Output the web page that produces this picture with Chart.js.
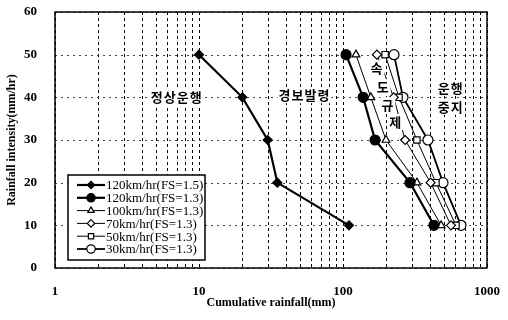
<!DOCTYPE html>
<html>
<head>
<meta charset="utf-8">
<script src="https://cdn.jsdelivr.net/npm/chart.js@4.4.1/dist/chart.umd.min.js"></script>
<style>
    html, body { margin: 0; padding: 0; background: #fff; }
    #wrap { width: 508px; height: 320px; }
</style>
</head>
<body>
<div id="wrap"><canvas id="rainChart" width="508" height="320"></canvas></div>
<script>
// rainfall intensity (mm/hr) for every point
const intensity = [50, 40, 30, 20, 10];

// cumulative rainfall (mm) per series, same order as intensity
const rain120fs15 = [10, 20, 30, 35, 110];
const rain120fs13 = [105, 138, 167, 292, 428];
const rain100 = [123, 156, 199, 326, 480];
const rain70 = [172, 225, 270, 406, 562];
const rain50 = [196, 245, 326, 442, 609];
const rain30 = [226, 261, 389, 495, 660];

const seriesLabels = [
    "120km/hr(FS=1.5)",
    "120km/hr(FS=1.3)",
    "100km/hr(FS=1.3)",
    "70km/hr(FS=1.3)",
    "50km/hr(FS=1.3)",
    "30km/hr(FS=1.3)"
];

const yTicks = [0, 10, 20, 30, 40, 50, 60];
const xMajorTicks = [1, 10, 100, 1000];

// region labels: text, rainfall, intensity
const zoneLabels = [
    ["정상운행", 7, 40],
    ["경보발령", 54, 40.5],
    ["속", 172, 46.8],
    ["도", 190, 42.4],
    ["규", 205, 38.2],
    ["제", 232, 34.2],
    ["운행", 560, 42.2],
    ["중지", 560, 37.8]
];

const SERIF = "'Liberation Serif', 'DejaVu Serif', serif";
const KR = "'Noto Sans CJK KR', sans-serif";

function toPoints(xs) {
    return xs.map((v, i) => ({ x: v, y: intensity[i] }));
}

function makeSet(label, xs, style, radius, filled, width) {
    return {
        label: label,
        data: toPoints(xs),
        showLine: true,
        borderColor: "#000",
        backgroundColor: filled ? "#000" : "#fff",
        borderWidth: width,
        pointStyle: style,
        pointRadius: radius,
        pointBorderWidth: 1.2,
        pointBackgroundColor: filled ? "#000" : "#fff",
        pointBorderColor: "#000"
    };
}

const datasets = [
    makeSet(seriesLabels[0], rain120fs15, "rectRot", 4.5, true, 2.2),
    makeSet(seriesLabels[1], rain120fs13, "circle", 5, true, 2.2),
    makeSet(seriesLabels[2], rain100, "triangle", 4.5, false, 1),
    makeSet(seriesLabels[3], rain70, "rectRot", 4.5, false, 1),
    makeSet(seriesLabels[4], rain50, "rect", 4.5, false, 1),
    makeSet(seriesLabels[5], rain30, "circle", 5, false, 1.8)
];

// dashed grid drawn by hand so the dash pattern is under control
const dashedGrid = {
    id: "dashedGrid",
    beforeDatasetsDraw(chart) {
        const ctx = chart.ctx;
        const a = chart.chartArea;
        const xs = chart.scales.x;
        const ys = chart.scales.y;

        ctx.save();
        ctx.lineWidth = 1;

        ctx.strokeStyle = "#000";
        ctx.setLineDash([3, 3]);
        xs.ticks.forEach(t => {
            const px = Math.round(xs.getPixelForValue(t.value)) + 0.5;
            ctx.beginPath();
            ctx.moveTo(px, a.top);
            ctx.lineTo(px, a.bottom);
            ctx.stroke();
        });

        ctx.strokeStyle = "#444";
        ctx.setLineDash([2, 4]);
        ys.ticks.forEach(t => {
            const py = Math.round(ys.getPixelForValue(t.value)) + 0.5;
            ctx.beginPath();
            ctx.moveTo(a.left, py);
            ctx.lineTo(a.right, py);
            ctx.stroke();
        });

        ctx.restore();
    }
};

// text boxes with white backing, drawn over the lines like the original
const annotations = {
    id: "annotations",
    afterDatasetsDraw(chart) {
        const ctx = chart.ctx;
        const xs = chart.scales.x;
        const ys = chart.scales.y;

        ctx.save();
        ctx.font = "bold 13px " + KR;
        ctx.letterSpacing = "1px";
        ctx.textAlign = "center";
        ctx.textBaseline = "middle";

        zoneLabels.forEach(z => {
            const cx = xs.getPixelForValue(z[1]);
            const cy = ys.getPixelForValue(z[2]);
            const w = ctx.measureText(z[0]).width + 2;
            ctx.fillStyle = "#fff";
            ctx.fillRect(cx - w / 2, cy - 8, w, 16);
            ctx.fillStyle = "#000";
            ctx.fillText(z[0], cx, cy);
        });

        // frame around plot
        const a = chart.chartArea;
        ctx.strokeStyle = "#000";
        ctx.lineWidth = 1.5;
        ctx.strokeRect(a.left, a.top, a.right - a.left, a.bottom - a.top);

        ctx.restore();
    }
};

// legend inside the plot, lower left
const boxLegend = {
    id: "boxLegend",
    afterDraw(chart) {
        const ctx = chart.ctx;
        const left = 68, top = 175, w = 137, h = 85;

        ctx.save();
        ctx.fillStyle = "#fff";
        ctx.fillRect(left, top, w, h);
        ctx.strokeStyle = "#000";
        ctx.lineWidth = 1.5;
        ctx.strokeRect(left, top, w, h);

        ctx.font = "13px " + SERIF;
        ctx.textBaseline = "middle";
        ctx.textAlign = "left";

        chart.data.datasets.forEach((ds, i) => {
            const y = top + 10 + i * 12.8;
            ctx.strokeStyle = "#000";
            ctx.lineWidth = ds.borderWidth;
            ctx.beginPath();
            ctx.moveTo(left + 9, y);
            ctx.lineTo(left + 37, y);
            ctx.stroke();

            ctx.lineWidth = 1.2;
            ctx.fillStyle = ds.pointBackgroundColor;
            Chart.helpers.drawPoint(ctx, {
                pointStyle: ds.pointStyle,
                radius: ds.pointRadius - 0.8,
                borderWidth: 1.2,
                rotation: 0
            }, left + 23, y);

            ctx.fillStyle = "#000";
            ctx.fillText(ds.label, left + 38, y + 1);
        });

        ctx.restore();
    }
};

const chart = new Chart(document.getElementById("rainChart"), {
    type: "scatter",
    data: { datasets: datasets },
    plugins: [dashedGrid, annotations, boxLegend],
    options: {
        responsive: false,
        animation: false,
        layout: { padding: { top: 12, right: 21, left: 5, bottom: 10 } },
        plugins: {
            legend: { display: false },
            tooltip: { enabled: false }
        },
        scales: {
            x: {
                type: "logarithmic",
                min: 1,
                max: 1000,
                afterBuildTicks(axis) {
                    const t = [];
                    [1, 10, 100].forEach(d => {
                        for (let k = 1; k < 10; k++) t.push({ value: d * k });
                    });
                    t.push({ value: 1000 });
                    axis.ticks = t;
                },
                afterFit(axis) {
                    axis.height = 42;
                    axis.paddingLeft = 0;
                    axis.paddingRight = 0;
                },
                ticks: {
                    autoSkip: false,
                    maxRotation: 0,
                    padding: 8,
                    color: "#000",
                    font: { family: SERIF, size: 13, weight: "bold" },
                    callback: v => xMajorTicks.includes(v) ? String(v) : ""
                },
                grid: { display: false },
                border: { display: false },
                title: {
                    display: true,
                    text: "Cumulative rainfall(mm)",
                    color: "#000",
                    padding: { top: 0, bottom: 0 },
                    font: { family: SERIF, size: 12, weight: "bold" }
                }
            },
            y: {
                min: 0,
                max: 60,
                afterBuildTicks(axis) {
                    axis.ticks = yTicks.map(v => ({ value: v }));
                },
                afterFit(axis) {
                    axis.width = 50;
                    axis.paddingTop = 0;
                    axis.paddingBottom = 0;
                },
                ticks: {
                    padding: 10,
                    color: "#000",
                    font: { family: SERIF, size: 13, weight: "bold" }
                },
                grid: { display: false },
                border: { display: false },
                title: {
                    display: true,
                    text: "Rainfall intensity(mm/hr)",
                    color: "#000",
                    padding: { top: 0, bottom: 0 },
                    font: { family: SERIF, size: 12, weight: "bold" }
                }
            }
        }
    }
});
</script>
</body>
</html>
